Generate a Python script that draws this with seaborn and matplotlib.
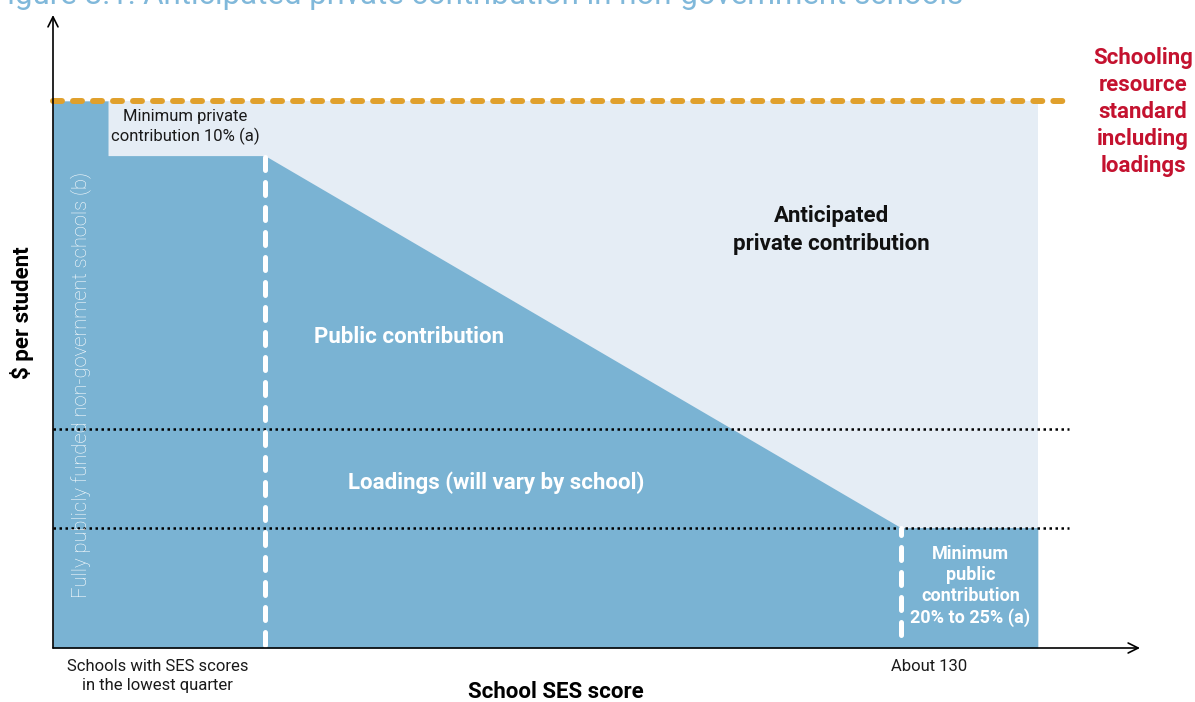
import matplotlib
matplotlib.use("Agg")
import matplotlib.pyplot as plt
import pandas as pd
import seaborn as sns

# Funding per student, as a share of the schooling resource standard (SRS = 100)
srs_level = 100
loadings_level = 40
min_private_share = 10
min_public_share = 22          # sits within the 20% to 25% range

# SES axis landmarks (arbitrary position scale, 0-100)
ses_full_public_end = 5.06     # fully publicly funded schools
ses_lowest_quarter = 19.5      # start of the sliding private contribution
ses_about_130 = 78.0           # minimum public contribution reached
ses_end = 90.6                 # right edge of the shaded funding area
ref_line_end = 93.5            # extent of the reference lines

# Public contribution profile across the SES range
ses_x = [0, ses_full_public_end, ses_full_public_end,
         ses_lowest_quarter, ses_about_130, ses_end]
public_share = [srs_level, srs_level,
                srs_level - min_private_share, srs_level - min_private_share,
                min_public_share, min_public_share]

tick_pos = [9.6, 80.6]
tick_labels = ["Schools with SES scores\nin the lowest quarter", "About 130"]

DARK = "#7AB3D3"
LIGHT = "#E5EDF5"
ORANGE = "#E0A02C"
RED = "#C4122F"
TITLE_BLUE = "#80B8DA"

sns.set_theme(style="white")
plt.rcParams["font.family"] = ["Roboto", "DejaVu Sans"]

fig = plt.figure(figsize=(11.95, 7.02), dpi=100)
ax = fig.add_axes([53 / 1195, 1 - 648 / 702, 1087 / 1195, 633 / 702])
ax.set_xlim(0, 100)
ax.set_ylim(0, 115.7)
for s in ax.spines.values():
    s.set_visible(False)

# Shaded areas: the full standard (light) and the public contribution (dark)
ax.fill_between([0, ses_end], [srs_level, srs_level], 0, color=LIGHT, lw=0, zorder=1)
ax.fill_between(ses_x, public_share, 0, color=DARK, lw=0, zorder=2)

# Dotted reference levels for the base amount and loadings
levels = pd.DataFrame({
    "ses": [0, ref_line_end, 0, ref_line_end],
    "share": [loadings_level, loadings_level, min_public_share, min_public_share],
    "level": ["loadings", "loadings", "base", "base"],
})
sns.lineplot(data=levels, x="ses", y="share", units="level", estimator=None,
             color="black", lw=1.8, linestyle=(0, (1, 1.4)), ax=ax, zorder=3,
             legend=False)

# White dashed markers for the two SES landmarks
ax.vlines([ses_lowest_quarter], 0.55, srs_level - min_private_share, color="white",
          lw=3.6, linestyles=[(0, (2.6, 2.4))], zorder=4)
ax.vlines([ses_about_130], 2.4, min_public_share, color="white",
          lw=3.6, linestyles=[(0, (2.6, 2.4))], zorder=4)
for coll in ax.collections[-2:]:
    coll.set_capstyle("round")

# Schooling resource standard line
srs = pd.DataFrame({"ses": [0, ref_line_end], "share": [srs_level, srs_level]})
sns.lineplot(data=srs, x="ses", y="share", color=ORANGE, lw=4.3, ax=ax,
             zorder=5, legend=False)
srs_line = ax.lines[-1]
srs_line.set_dashes((1.5, 1.85))
srs_line.set_dash_capstyle("round")
srs_line.set_clip_on(False)

# Axis arrows
ax.annotate("", xy=(0, 115.7), xytext=(0, 0),
            arrowprops=dict(arrowstyle="->", lw=1.2, color="black",
                            shrinkA=0, shrinkB=0, mutation_scale=18),
            annotation_clip=False, zorder=6)
ax.annotate("", xy=(100, 0), xytext=(0, 0),
            arrowprops=dict(arrowstyle="->", lw=1.2, color="black",
                            shrinkA=0, shrinkB=0, mutation_scale=18),
            annotation_clip=False, zorder=6)

# Area labels
ax.text(12.2, 95.2, "Minimum private\ncontribution 10% (a)", ha="center", va="center",
        fontsize=12, color="#1a1a1a", linespacing=1.25, zorder=7)
ax.text(71.6, 76.4, "Anticipated\nprivate contribution", ha="center", va="center",
        fontsize=16, fontweight="bold", color="#111111", linespacing=1.3, zorder=7)
ax.text(32.75, 56.9, "Public contribution", ha="center", va="center",
        fontsize=16, fontweight="bold", color="white", zorder=7)
ax.text(40.75, 30.2, "Loadings (will vary by school)", ha="center", va="center",
        fontsize=16, fontweight="bold", color="white", zorder=7)
ax.text(84.4, 11.3, "Minimum\npublic\ncontribution\n20% to 25% (a)", ha="center",
        va="center", fontsize=13, fontweight="bold", color="white",
        linespacing=1.22, zorder=7)
ax.text(2.5, 48.1, "Fully publicly funded non-government schools (b)", rotation=90,
        ha="center", va="center", fontsize=14.5, fontweight="light",
        color="white", zorder=7)

# Axis ticks and titles
ax.set_xticks(tick_pos)
ax.set_xticklabels(tick_labels, fontsize=12, color="#1a1a1a", linespacing=1.35)
ax.set_yticks([])
ax.tick_params(axis="x", length=0, pad=8)
ax.set_xlabel("School SES score", fontsize=16, fontweight="bold", color="black",
              va="center")
ax.xaxis.set_label_coords((556 - 53) / 1087, -(692 - 648) / 633)
ax.set_ylabel("$ per student", fontsize=16, fontweight="bold", color="black",
              va="center")
ax.yaxis.set_label_coords(-(53 - 22) / 1087, (648 - 313) / 633)

fig.text(1143 / 1195, 1 - 112 / 702,
         "Schooling\nresource\nstandard\nincluding\nloadings",
         ha="center", va="center", fontsize=16, fontweight="bold", color=RED,
         linespacing=1.3)

fig.text(-10 / 1195, 1 - 4 / 702,
         "Figure 8.1: Anticipated private contribution in non-government schools",
         ha="left", va="baseline", fontsize=22.5, fontweight="normal", color=TITLE_BLUE)

fig.savefig("out.png", dpi=100)
